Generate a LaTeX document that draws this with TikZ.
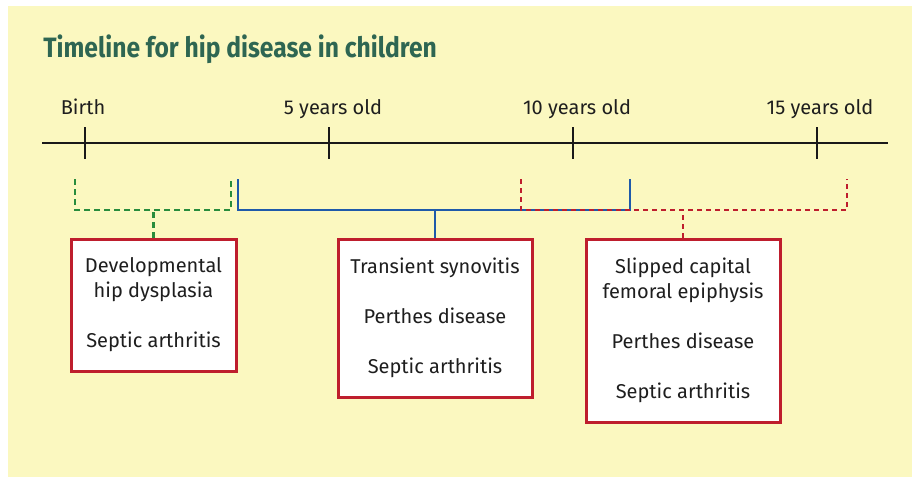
\documentclass[tikz,border=0pt]{standalone}
\usepackage{fontspec}
\setmainfont{Fira Sans}
\newfontfamily\titlefont[FakeStretch=0.88]{Fira Sans}
\usetikzlibrary{positioning,calc}
\definecolor{panel}{RGB}{251,248,192}
\definecolor{titlegreen}{RGB}{46,102,82}
\definecolor{boxred}{RGB}{190,30,45}
\definecolor{lineblue}{RGB}{30,90,170}
\definecolor{linegreen}{RGB}{40,140,60}
\definecolor{txt}{RGB}{30,30,30}

\begin{document}
\begin{tikzpicture}[
      x=0.5pt,y=-0.5pt,
      disbox/.style={rectangle,draw=boxred,fill=white,line width=1.5pt,
                     font=\fontsize{10}{12.5}\selectfont,text=txt,
                     align=center,inner sep=0pt},
      agetick/.style={line width=1.1pt,draw=black!90},
      agelabel/.style={font=\fontsize{10}{12}\selectfont,text=txt,
                       anchor=base,inner sep=0pt},
      earlyspan/.style={draw=linegreen,line width=1.2pt,dash pattern=on 3pt off 2pt},
      midspan/.style={draw=lineblue,line width=1.2pt},
      latespan/.style={draw=boxred,line width=1.2pt,dash pattern=on 2.5pt off 2pt}
    ]
      % panel
      \fill[white] (0,0) rectangle (912,477);
      \fill[panel] (8,6) rectangle (912,477);
      \useasboundingbox (0,0) rectangle (912,477);

      \node[anchor=base west,inner sep=0pt,text=titlegreen,
            font=\titlefont\bfseries\fontsize{14}{16}\selectfont]
            (title) at (43,57) {Timeline for hip disease in children};

      % time axis
      \coordinate (axl) at (42,143);
      \coordinate (axr) at (888,143);
      \draw[agetick] (axl) -- (axr);
      \foreach \x/\lx/\lab/\nm in {85/83/Birth/a0,329/333/5 years old/a5,
                                   573/577/10 years old/a10,817/820/15 years old/a15}{
        \draw[agetick] (\x,127) -- (\x,159);
        \node[agelabel] (\nm) at (\lx,114) {\lab};
      }

      % disease boxes
      \node[disbox,minimum width=82.5pt,minimum height=66pt] (early) at (153.5,305)
           {Developmental\\hip dysplasia\\[12.5pt]Septic arthritis};
      \node[disbox,minimum width=97pt,minimum height=79pt] (mid) at (435,318)
           {Transient synovitis\\[12.5pt]Perthes disease\\[12.5pt]Septic arthritis};
      \node[disbox,minimum width=97pt,minimum height=91.5pt] (late) at (683,330.5)
           {Slipped capital\\femoral epiphysis\\[12.5pt]Perthes disease\\[12.5pt]Septic arthritis};

      % age spans
      \coordinate (e1) at (75,179);
      \coordinate (e2) at (231,179);
      \coordinate (m1) at (238,179);
      \coordinate (m2) at (630,179);
      \coordinate (l1) at (521,179);
      \coordinate (l2) at (847,179);

      \draw[earlyspan] (e1) -- ++(0,31) -| (e2);
      \draw[earlyspan] (early.north) -- ++(0,-29);
      \draw[midspan] (m1) -- ++(0,31) -| (m2);
      \draw[midspan] (mid.north) -- ++(0,-29);
      \draw[latespan] (l1) -- ++(0,31) -| (l2);
      \draw[latespan] (late.north) -- ++(0,-29);
    \end{tikzpicture}
\end{document}
